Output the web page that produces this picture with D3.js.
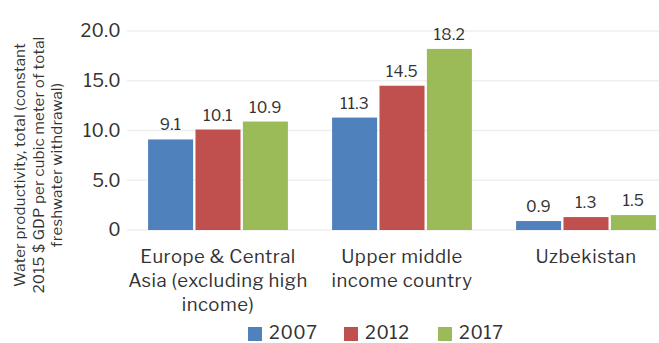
<!DOCTYPE html>
<html>
<head>
<meta charset="utf-8">
<script src="https://cdn.jsdelivr.net/npm/d3@7"></script>
<style>
  html, body { margin: 0; padding: 0; background: #fff; }
  svg text { font-family: "Libre Franklin", Roboto, "Open Sans", sans-serif; fill: #333; }
</style>
</head>
<body>
<svg id="chart" width="659" height="343"></svg>
<script>
// Water productivity (constant 2015 $ GDP per m³ of freshwater withdrawal)
const categories = [
  ["Europe & Central", "Asia (excluding high", "income)"],
  ["Upper middle", "income country"],
  ["Uzbekistan"]
];
const categoryKeys = ["Europe & Central Asia (excluding high income)", "Upper middle income country", "Uzbekistan"];
const years = ["2007", "2012", "2017"];
const values2007 = [9.1, 11.3, 0.9];
const values2012 = [10.1, 14.5, 1.3];
const values2017 = [10.9, 18.2, 1.5];
const yTicks = [0, 5, 10, 15, 20];
const yTickLabels = ["0", "5.0", "10.0", "15.0", "20.0"];
const titleLines = ["Water productivity, total (constant", "2015 $ GDP per cubic meter of total", "freshwater withdrawal)"];
const colors = ["#4f81bd", "#c0504d", "#9bbb59"];

const seriesValues = [values2007, values2012, values2017];
const svg = d3.select("#chart");

const y = d3.scaleLinear().domain([0, 20]).range([230, 31]);
const x0 = d3.scaleBand().domain(categoryKeys).range([126, 678]).paddingInner(0.24).paddingOuter(0.12);
const x1 = d3.scaleBand().domain(years).range([0, x0.bandwidth()]).paddingInner(0.05);
const color = d3.scaleOrdinal().domain(years).range(colors);

// gridlines
svg.append("g").selectAll("line").data(yTicks).join("line")
  .attr("x1", 127).attr("x2", 659)
  .attr("y1", d => y(d)).attr("y2", d => y(d))
  .attr("stroke", "#efefef").attr("stroke-width", 1.5);

// y tick labels
svg.append("g").selectAll("text").data(yTicks).join("text")
  .attr("x", 121).attr("y", d => y(d)).attr("dy", "0.36em")
  .attr("text-anchor", "end").attr("font-size", 18).attr("letter-spacing", 0.3)
  .text((d, i) => yTickLabels[i]);

// y axis title
const title = svg.append("text")
  .attr("transform", "translate(20,165) rotate(-90)")
  .attr("text-anchor", "middle").attr("font-size", 15).attr("letter-spacing", 0.2);
titleLines.forEach((t, i) => {
  title.append("tspan").attr("x", 0).attr("y", i * 18.5).attr("dy", "0.36em").text(t);
});

// bars
const groups = svg.append("g").selectAll("g").data(categoryKeys).join("g")
  .attr("transform", d => `translate(${x0(d)},0)`);

groups.selectAll("rect")
  .data((d, ci) => years.map((yr, si) => ({ yr, v: seriesValues[si][ci] })))
  .join("rect")
  .attr("x", d => x1(d.yr)).attr("width", x1.bandwidth())
  .attr("y", d => y(d.v)).attr("height", d => y(0) - y(d.v))
  .attr("fill", d => color(d.yr));

groups.selectAll("text.val")
  .data((d, ci) => years.map((yr, si) => ({ yr, v: seriesValues[si][ci] })))
  .join("text").attr("class", "val")
  .attr("x", d => x1(d.yr) + x1.bandwidth() / 2)
  .attr("y", d => y(d.v) - 9)
  .attr("text-anchor", "middle").attr("font-size", 15.5).attr("letter-spacing", 0.3)
  .text(d => d.v.toFixed(1));

// category labels
groups.each(function (d, ci) {
  const t = d3.select(this).append("text")
    .attr("text-anchor", "middle").attr("font-size", 18.5).attr("letter-spacing", 0.5);
  categories[ci].forEach((line, li) => {
    t.append("tspan").attr("x", x0.bandwidth() / 2).attr("y", 256 + li * 24)
      .attr("dy", "0.36em").text(line);
  });
});

// legend, kept just inside the bottom edge
const legendX = [248, 344, 438];
const legend = svg.append("g").selectAll("g").data(years).join("g")
  .attr("transform", (d, i) => `translate(${legendX[i]},326)`);
legend.append("rect").attr("y", 1).attr("width", 14).attr("height", 14).attr("fill", d => color(d));
legend.append("text").attr("x", 21).attr("y", 7).attr("dy", "0.36em")
  .attr("font-size", 18).attr("letter-spacing", 0.6).text(d => d);
</script>
</body>
</html>
